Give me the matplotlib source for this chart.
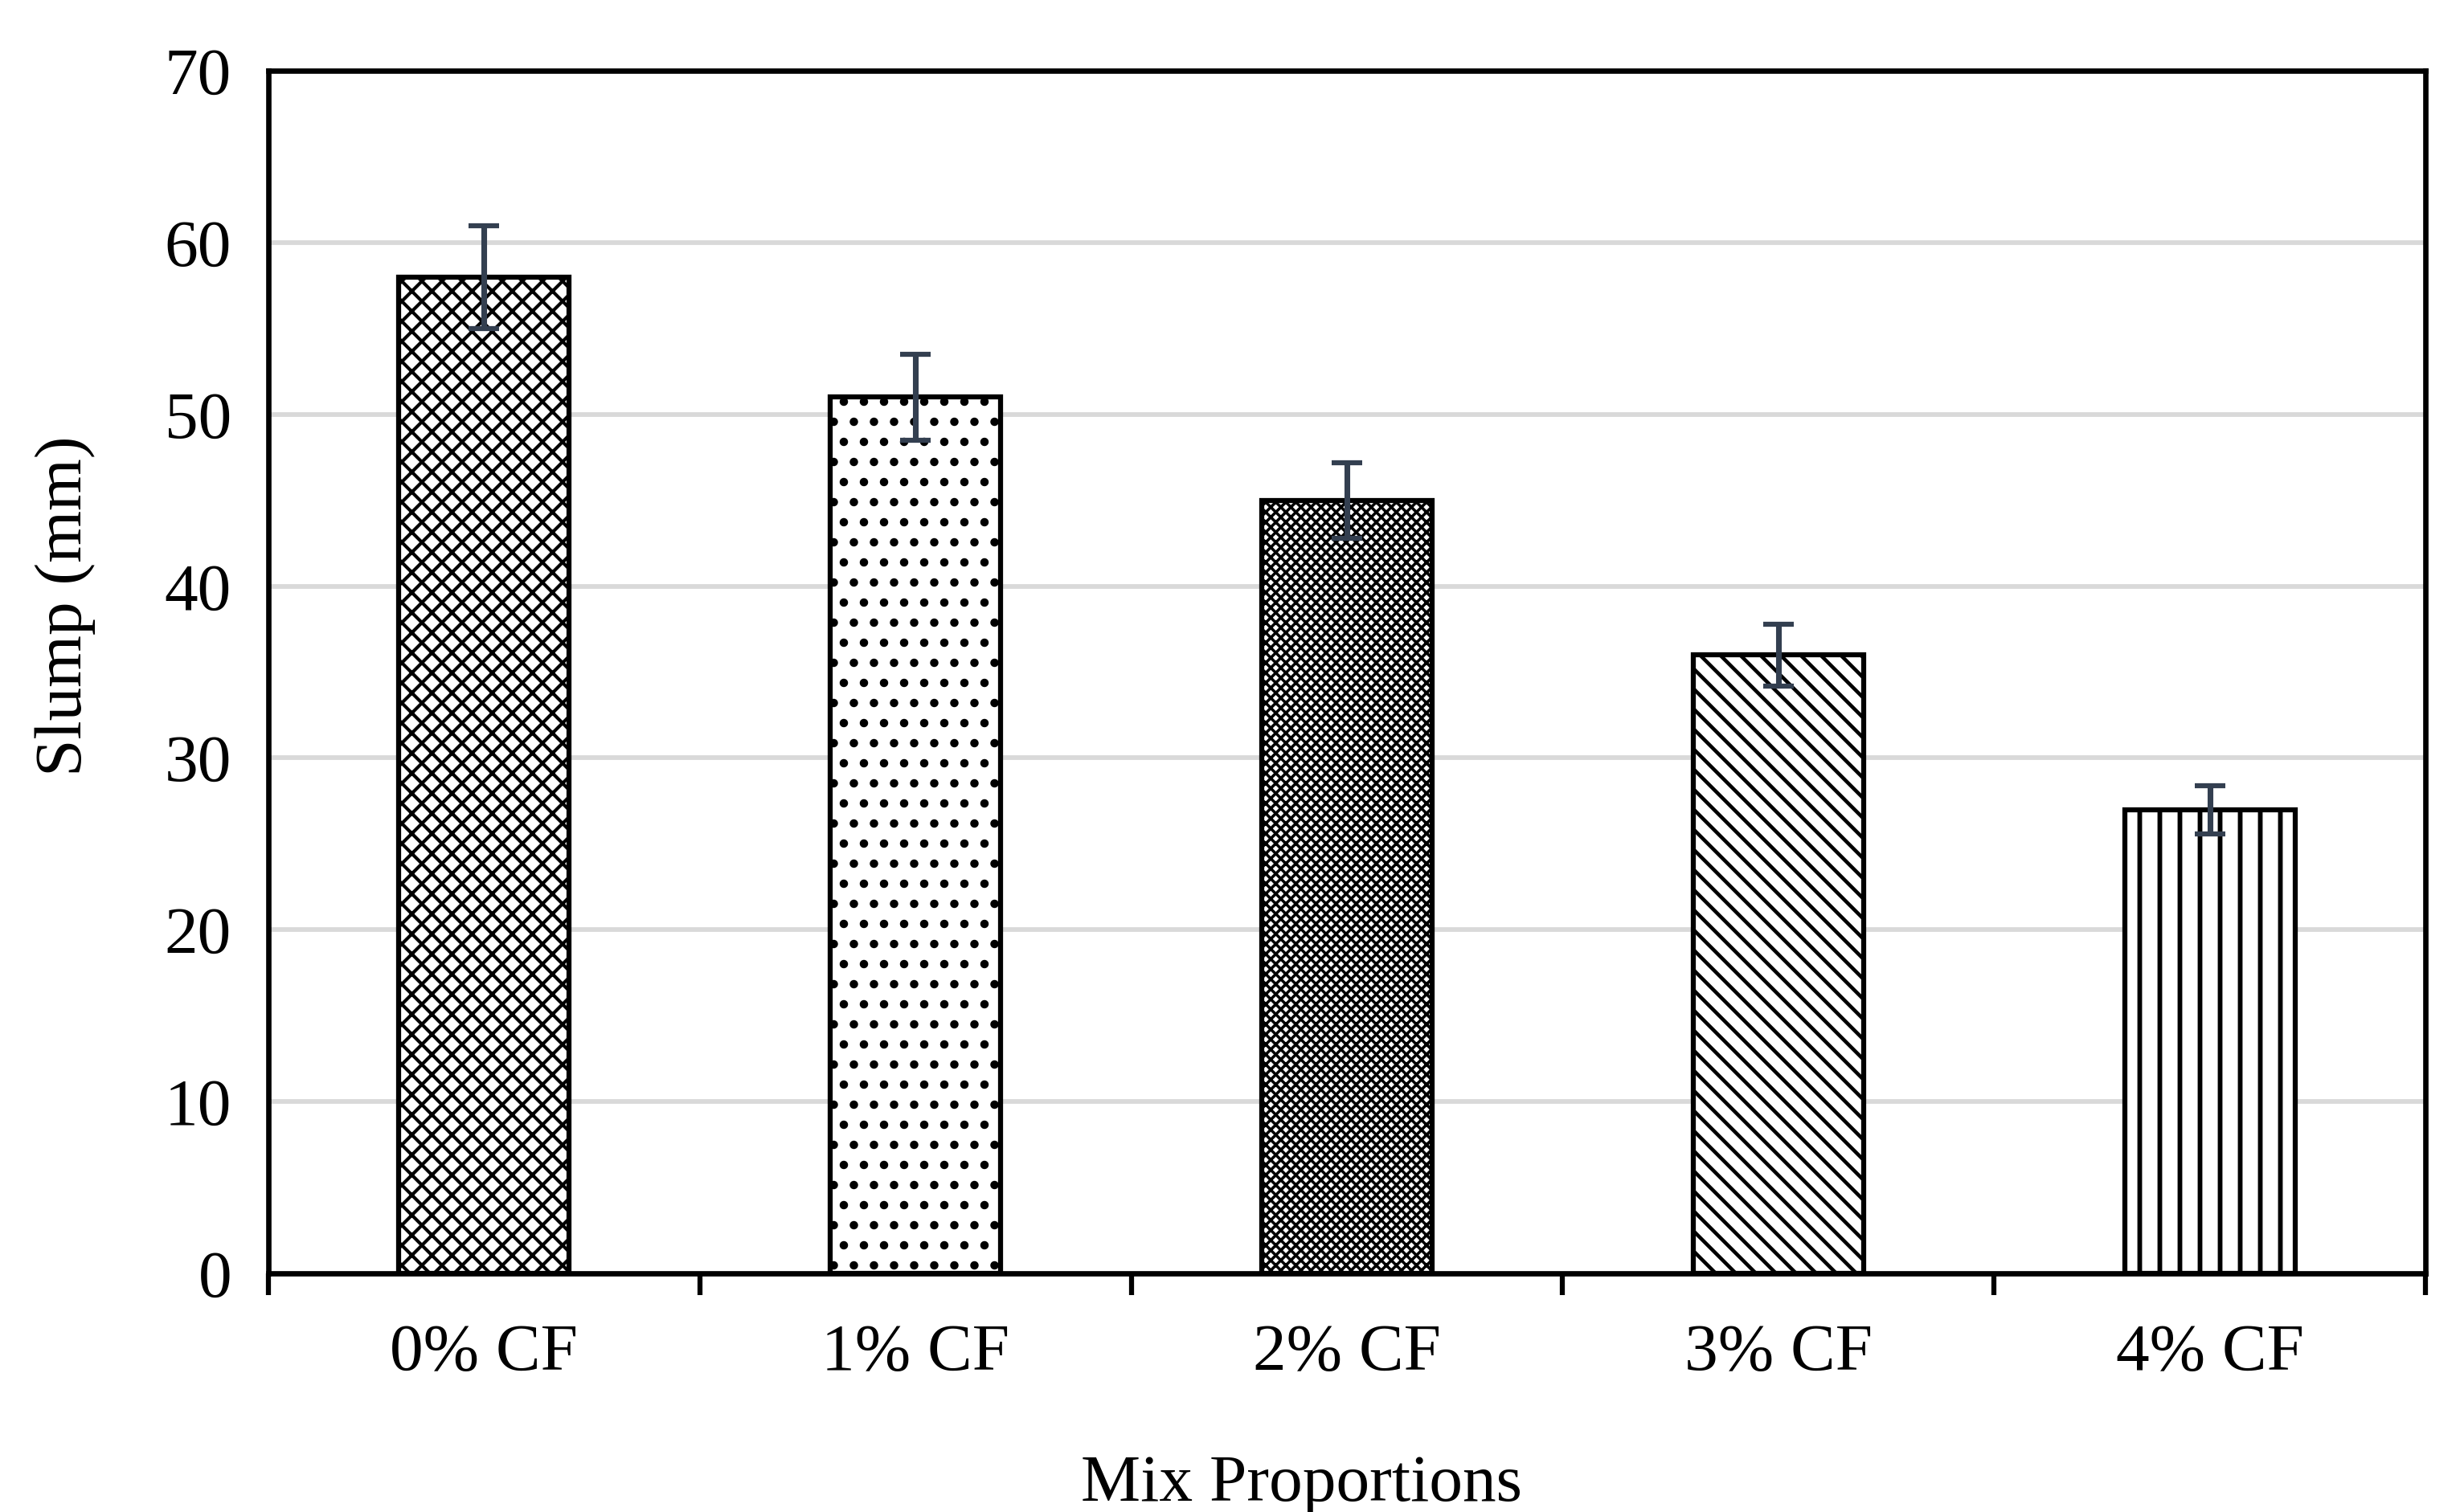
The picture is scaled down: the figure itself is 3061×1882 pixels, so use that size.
import matplotlib
matplotlib.use("Agg")
import matplotlib.pyplot as plt
import numpy as np

categories = ["0% CF", "1% CF", "2% CF", "3% CF", "4% CF"]
slump = [58, 51, 45, 36, 27]
errors = [3.0, 2.5, 2.2, 1.8, 1.4]
hatches = ["xx", ".", "xxxx", "\\\\", "|"]
hatch_lws = [2.0, 2.6, 1.7, 2.2, 2.8]

plt.rcParams['font.family'] = ['Liberation Serif', 'DejaVu Serif']

DPI = 150
fig = plt.figure(figsize=(3061 / DPI, 1882 / DPI), dpi=DPI)
ax = fig.add_axes([0.1091, 0.1578, 0.986 - 0.1091, 0.9532 - 0.1578])

x = np.arange(len(categories))
for i in range(len(categories)):
    with plt.rc_context({'hatch.linewidth': hatch_lws[i], 'hatch.color': 'black'}):
        bars = ax.bar(x[i], slump[i], width=0.395, color='white', edgecolor='black',
                      linewidth=3.0, hatch=hatches[i], zorder=3)
        for b in bars:
            if hasattr(b, 'set_hatch_linewidth'):
                b.set_hatch_linewidth(hatch_lws[i])

ax.errorbar(x, slump, yerr=errors, fmt='none', ecolor='#333f50', elinewidth=3.4,
            capsize=9, capthick=3, zorder=4)

ax.set_xlim(-0.5, len(categories) - 0.5)
ax.set_ylim(0, 70)
ax.set_yticks(np.arange(0, 71, 10))
ax.yaxis.grid(True, color='#d9d9d9', linewidth=2.8, zorder=0)
ax.set_axisbelow(True)

ax.set_xticks(x)
ax.set_xticklabels(categories)
ax.set_xticks(np.arange(-0.5, len(categories), 1.0), minor=True)
ax.tick_params(axis='x', which='major', length=0, labelsize=40, pad=30)
ax.tick_params(axis='x', which='minor', length=13, width=3, direction='out', color='black')
ax.tick_params(axis='y', which='both', length=0, labelsize=40, pad=22)

for s in ax.spines.values():
    s.set_linewidth(3.2)
    s.set_color('black')

ax.set_ylabel("Slump (mm)", fontsize=40, labelpad=41)
ax.set_xlabel("Mix Proportions", fontsize=40, labelpad=42)
ax.yaxis.label.set_y(0.555)
ax.xaxis.label.set_x(0.479)

fig.savefig("out.png", dpi=DPI, facecolor='white')
